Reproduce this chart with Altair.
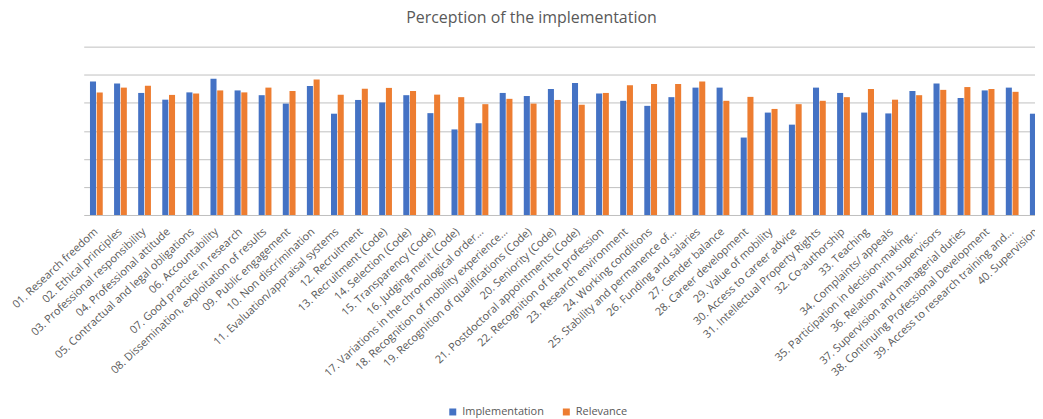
import altair as alt
import pandas as pd

categories = [
    "01. Research freedom",
    "02. Ethical principles",
    "03. Professional responsibility",
    "04. Professional attitude",
    "05. Contractual and legal obligations",
    "06. Accountability",
    "07. Good practice in research",
    "08. Dissemination, exploitation of results",
    "09. Public engagement",
    "10. Non discrimination",
    "11. Evaluation/appraisal systems",
    "12. Recruitment",
    "13. Recruitment (Code)",
    "14. Selection (Code)",
    "15. Transparency (Code)",
    "16. Judging merit (Code)",
    "17. Variations in the chronological order...",
    "18. Recognition of mobility experience...",
    "19. Recognition of qualifications (Code)",
    "20. Seniority (Code)",
    "21. Postdoctoral appointments (Code)",
    "22. Recognition of the profession",
    "23. Research environment",
    "24. Working conditions",
    "25. Stability and permanence of...",
    "26. Funding and salaries",
    "27. Gender balance",
    "28. Career development",
    "29. Value of mobility",
    "30. Access to career advice",
    "31. Intellectual Property Rights",
    "32. Co-authorship",
    "33. Teaching",
    "34. Complaints/ appeals",
    "35. Participation in decision-making...",
    "36. Relation with supervisors",
    "37. Supervision and managerial duties",
    "38. Continuing Professional Development",
    "39. Access to research training and...",
    "40. Supervision",
]

implementation = [
    4.76, 4.69, 4.35, 4.11, 4.37, 4.86, 4.44, 4.27, 3.97, 4.60,
    3.61, 4.10, 4.01, 4.27, 3.63, 3.05, 3.27, 4.35, 4.24, 4.49,
    4.70, 4.33, 4.07, 3.89, 4.20, 4.54, 4.54, 2.76, 3.65, 3.22,
    4.54, 4.35, 3.65, 3.62, 4.42, 4.69, 4.17, 4.44, 4.54, 3.61,
]

relevance = [
    4.37, 4.54, 4.61, 4.28, 4.33, 4.44, 4.37, 4.54, 4.42, 4.83,
    4.29, 4.50, 4.53, 4.42, 4.29, 4.20, 3.95, 4.14, 3.97, 4.10,
    3.93, 4.35, 4.62, 4.67, 4.67, 4.76, 4.07, 4.21, 3.78, 3.95,
    4.07, 4.20, 4.49, 4.11, 4.27, 4.46, 4.56, 4.49, 4.39, 4.30,
]

series = ["Implementation", "Relevance"]
colors = ["#4472C4", "#ED7D31"]

rows = []
for c, a, b in zip(categories, implementation, relevance):
    rows.append({"Category": c, "Series": series[0], "Value": a})
    rows.append({"Category": c, "Series": series[1], "Value": b})
df = pd.DataFrame(rows)

FONT = "Open Sans"
GREY = "#595959"

chart = (
    alt.Chart(df)
    .mark_bar()
    .encode(
        x=alt.X(
            "Category:N",
            sort=categories,
            title=None,
            scale=alt.Scale(range=[0, 969], paddingInner=0.47, paddingOuter=0.26),
            axis=alt.Axis(
                labelAngle=-43,
                labelAlign="right",
                labelBaseline="middle",
                labelPadding=15,
                labelLimit=400,
                labelOverlap=False,
                labelFont=FONT,
                labelFontSize=11,
                labelColor=GREY,
                ticks=False,
                domain=False,
                grid=False,
            ),
        ),
        xOffset=alt.XOffset("Series:N", sort=series, scale=alt.Scale(paddingInner=0.1)),
        y=alt.Y(
            "Value:Q",
            title=None,
            scale=alt.Scale(domain=[0, 6], nice=False),
            axis=alt.Axis(
                values=[0, 1, 2, 3, 4, 5, 6],
                labels=False,
                ticks=False,
                domain=False,
                grid=True,
                gridColor="#c0c0c0",
                gridWidth=1,
            ),
        ),
        color=alt.Color(
            "Series:N",
            sort=series,
            scale=alt.Scale(domain=series, range=colors),
            legend=alt.Legend(
                title=None,
                orient="none",
                direction="horizontal",
                legendX=365,
                legendY=361,
                symbolType="square",
                symbolSize=49,
                symbolStrokeWidth=0,
                labelFont=FONT,
                labelFontSize=11,
                labelColor=GREY,
                labelOffset=4,
                columnPadding=16,
            ),
        ),
    )
    .properties(
        width=955,
        height=169,
        autosize=alt.AutoSizeParams(type="none"),
        padding={"left": 76, "top": 38, "right": 0, "bottom": 204},
        title=alt.TitleParams(
            text="Perception of the implementation",
            font=FONT,
            fontSize=16,
            fontWeight="normal",
            color=GREY,
            anchor="middle",
            frame="group",
            dx=-28,
            baseline="alphabetic",
            offset=8,
        ),
    )
    .configure_view(stroke=None)
)

chart.save("out.html", embed_options={"renderer": "svg", "actions": False})
